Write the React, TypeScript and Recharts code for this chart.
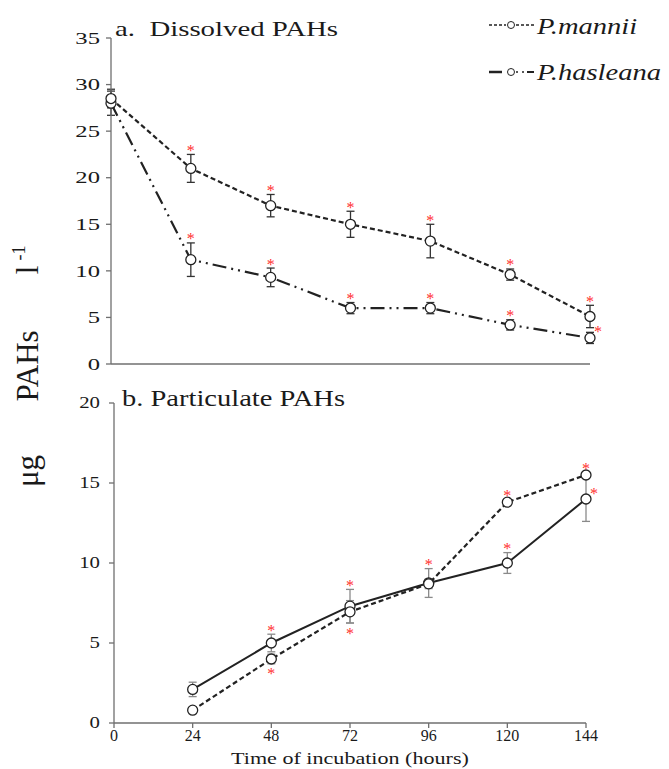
import React from "react";
import { ComposedChart, Line, XAxis, YAxis, ErrorBar } from "recharts";

const hours = [0, 24, 48, 72, 96, 120, 144];

// a. dissolved PAHs
const dissolvedMannii = [28.5, 21.0, 17.0, 15.0, 13.2, 9.6, 5.1];
const dissolvedManniiSd = [1.0, 1.5, 1.2, 1.4, 1.8, 0.6, 1.2];
const dissolvedHasleana = [28.0, 11.2, 9.3, 6.0, 6.0, 4.2, 2.8];
const dissolvedHasleanaSd = [1.3, 1.8, 1.0, 0.6, 0.6, 0.55, 0.6];
const dissolvedManniiSig = ["", "up", "up", "up", "up", "up", "up"];
const dissolvedHasleanaSig = ["", "up", "up", "up", "up", "up", "right"];

// b. particulate PAHs
const particulateHours = [24, 48, 72, 96, 120, 144];
const particulateMannii = [0.8, 4.0, 6.95, 8.7, 13.8, 15.5];
const particulateManniiSd = [0.1, 0.3, 0.7, 0.3, 0.15, 0.15];
const particulateHasleana = [2.1, 5.0, 7.3, 8.75, 10.0, 14.0];
const particulateHasleanaSd = [0.45, 0.55, 1.05, 0.9, 0.65, 1.4];
const particulateManniiSig = ["", "down", "down", "", "up", "up"];
const particulateHasleanaSig = ["", "up", "up", "up", "up", "right"];

const dissolvedTicks = [0, 5, 10, 15, 20, 25, 30, 35];
const particulateTicks = [0, 5, 10, 15, 20];

const FONT = '"Liberation Serif", "Times New Roman", serif';
const INK = "#1a1a1a";
const AXIS = "#6f6f6f";

const sigY = (v: number, sd: number, side: string) =>
  side === "up" ? v + sd : side === "down" ? v - sd : side === "right" ? v : null;

function buildRows(
  t: number[],
  m: number[],
  mSd: number[],
  mSig: string[],
  h: number[],
  hSd: number[],
  hSig: string[]
) {
  return t.map((x, i) => ({
    t: x,
    mannii: m[i],
    manniiSd: mSd[i],
    manniiStar: sigY(m[i], mSd[i], mSig[i]),
    manniiSide: mSig[i],
    hasleana: h[i],
    hasleanaSd: hSd[i],
    hasleanaStar: sigY(h[i], hSd[i], hSig[i]),
    hasleanaSide: hSig[i],
  }));
}

const dissolvedRows = buildRows(
  hours,
  dissolvedMannii,
  dissolvedManniiSd,
  dissolvedManniiSig,
  dissolvedHasleana,
  dissolvedHasleanaSd,
  dissolvedHasleanaSig
);

const particulateRows = buildRows(
  particulateHours,
  particulateMannii,
  particulateManniiSd,
  particulateManniiSig,
  particulateHasleana,
  particulateHasleanaSd,
  particulateHasleanaSig
);

const ring = (props: any) => {
  const { cx, cy, index } = props;
  if (cx == null || cy == null) return <g key={`r-${index}`} />;
  return (
    <circle key={`r-${index}`} cx={cx} cy={cy} r={5} fill="#fff" stroke="#222" strokeWidth={1.3} />
  );
};

const starDot = (sideKey: string) => (props: any) => {
  const { cx, cy, payload, index } = props;
  const side = payload ? payload[sideKey] : "";
  if (!side || cx == null || cy == null) return <g key={`s-${index}`} />;
  let x = cx;
  let y = cy + 1.5;
  if (side === "down") y = cy + 15.5;
  if (side === "right") {
    x = cx + 8;
    y = cy - 0.5;
  }
  return (
    <text key={`s-${index}`} x={x} y={y} textAnchor="middle" fontSize={16} fill="#ff2e2e" fontFamily={FONT}>
      *
    </text>
  );
};

const yTick = (size: number, sx: number) => (p: any) => (
  <text
    transform={`translate(${p.x},${p.y}) scale(${sx},1)`}
    textAnchor="end"
    dy="0.34em"
    fontSize={size}
    fontFamily={FONT}
    fill={INK}
  >
    {p.payload.value}
  </text>
);

export default function App() {
  return (
    <div
      style={{
        position: "absolute",
        left: 0,
        top: 0,
        width: 669,
        height: 769,
        background: "#fff",
        fontFamily: FONT,
      }}
    >
      <div style={{ position: "absolute", left: 0, top: 0 }}>
        <ComposedChart width={669} height={400} data={dissolvedRows} margin={{ top: 38, right: 79, bottom: 26, left: 0 }}>
          <XAxis
            dataKey="t"
            type="number"
            domain={[0, 144]}
            ticks={hours}
            height={10}
            tick={false}
            tickSize={5}
            stroke={AXIS}
            strokeWidth={1.3}
          />
          <YAxis
            type="number"
            domain={[0, 35]}
            ticks={dissolvedTicks}
            width={111}
            tickSize={5}
            tickMargin={6}
            stroke={AXIS}
            strokeWidth={1.3}
            tick={yTick(17, 1.45)}
          />
          <Line
            dataKey="hasleana"
            stroke="#222"
            strokeWidth={2.2}
            strokeDasharray="14 5 2 5 2 5"
            dot={ring}
            activeDot={false}
            isAnimationActive={false}
          >
            <ErrorBar dataKey="hasleanaSd" direction="y" width={4} stroke="#333" strokeWidth={1.3} />
          </Line>
          <Line
            dataKey="mannii"
            stroke="#222"
            strokeWidth={2.2}
            strokeDasharray="5 3"
            dot={ring}
            activeDot={false}
            isAnimationActive={false}
          >
            <ErrorBar dataKey="manniiSd" direction="y" width={4} stroke="#333" strokeWidth={1.3} />
          </Line>
          <Line dataKey="manniiStar" stroke="none" dot={starDot("manniiSide")} activeDot={false} isAnimationActive={false} />
          <Line dataKey="hasleanaStar" stroke="none" dot={starDot("hasleanaSide")} activeDot={false} isAnimationActive={false} />
        </ComposedChart>
      </div>

      <div style={{ position: "absolute", left: 0, top: 380 }}>
        <ComposedChart width={669} height={389} data={particulateRows} margin={{ top: 23, right: 83, bottom: 16, left: 0 }}>
          <XAxis
            dataKey="t"
            type="number"
            domain={[0, 144]}
            ticks={hours}
            height={30}
            tickSize={5}
            tickMargin={2}
            stroke={AXIS}
            strokeWidth={1.3}
            tick={{ fontSize: 16, fontFamily: FONT, fill: INK }}
          />
          <YAxis
            type="number"
            domain={[0, 20]}
            ticks={particulateTicks}
            width={114}
            tickSize={5}
            tickMargin={9}
            stroke={AXIS}
            strokeWidth={1.3}
            tick={yTick(16, 1.3)}
          />
          <Line
            dataKey="hasleana"
            stroke="#222"
            strokeWidth={2}
            dot={ring}
            activeDot={false}
            isAnimationActive={false}
          >
            <ErrorBar dataKey="hasleanaSd" direction="y" width={4} stroke="#8a8a8a" strokeWidth={1.3} />
          </Line>
          <Line
            dataKey="mannii"
            stroke="#222"
            strokeWidth={2.2}
            strokeDasharray="5 3"
            dot={ring}
            activeDot={false}
            isAnimationActive={false}
          >
            <ErrorBar dataKey="manniiSd" direction="y" width={4} stroke="#8a8a8a" strokeWidth={1.3} />
          </Line>
          <Line dataKey="manniiStar" stroke="none" dot={starDot("manniiSide")} activeDot={false} isAnimationActive={false} />
          <Line dataKey="hasleanaStar" stroke="none" dot={starDot("hasleanaSide")} activeDot={false} isAnimationActive={false} />
        </ComposedChart>
      </div>

      <svg
        width={669}
        height={769}
        style={{ position: "absolute", left: 0, top: 0, pointerEvents: "none" }}
        fontFamily={FONT}
        fill={INK}
      >
        <text transform="translate(115,36) scale(1.31,1)" fontSize={22} style={{ whiteSpace: "pre" }}>
          a.  Dissolved PAHs
        </text>
        <text transform="translate(122,406) scale(1.24,1)" fontSize={23} style={{ whiteSpace: "pre" }}>
          b. Particulate PAHs
        </text>

        {/* legend */}
        <line x1={489} x2={506} y1={25} y2={25} stroke="#222" strokeWidth={1.5} strokeDasharray="3 2" />
        <circle cx={511} cy={25} r={3.5} fill="#fff" stroke="#222" strokeWidth={1} />
        <line x1={516} x2={535} y1={25} y2={25} stroke="#222" strokeWidth={1.5} strokeDasharray="3 2" />
        <text transform="translate(537,34) scale(1.19,1)" fontSize={24} fontStyle="italic">
          P.mannii
        </text>
        <line x1={489} x2={502} y1={72} y2={72} stroke="#222" strokeWidth={2.5} />
        <circle cx={511} cy={72} r={3.5} fill="#fff" stroke="#222" strokeWidth={1} />
        <line x1={516} x2={518} y1={72} y2={72} stroke="#222" strokeWidth={1.5} />
        <line x1={522} x2={524} y1={72} y2={72} stroke="#222" strokeWidth={1.5} />
        <line x1={527} x2={534} y1={72} y2={72} stroke="#222" strokeWidth={2} />
        <text transform="translate(537,80) scale(1.19,1)" fontSize={24} fontStyle="italic">
          P.hasleana
        </text>

        {/* shared axis titles */}
        <text transform="translate(350,764) scale(1.3,1)" fontSize={17} textAnchor="middle">
          Time of incubation (hours)
        </text>
        <text transform="translate(38,471) rotate(-90)" fontSize={31} textAnchor="middle">
          μg
        </text>
        <text transform="translate(38,366) rotate(-90)" fontSize={31} textAnchor="middle">
          PAHs
        </text>
        <text transform="translate(38,270) rotate(-90)" fontSize={31} textAnchor="middle">
          l
        </text>
        <text transform="translate(25,253) rotate(-90)" fontSize={18} textAnchor="middle">
          -1
        </text>
      </svg>
    </div>
  );
}
